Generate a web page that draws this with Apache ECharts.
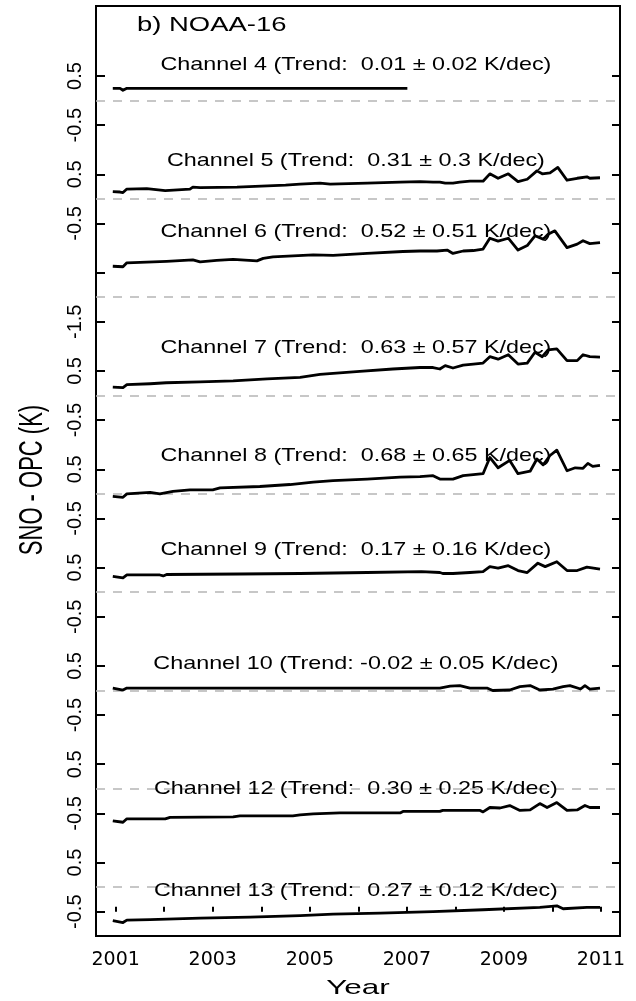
<!DOCTYPE html>
<html>
<head>
<meta charset="utf-8">
<script src="https://cdn.jsdelivr.net/npm/echarts@6/dist/echarts.min.js"></script>
<style>
html,body{margin:0;padding:0;background:#fff;}
#chart{width:636px;height:1001px;}
</style>
</head>
<body>
<div id="chart"></div>
<script>
// ---------------- data ----------------
const channelNames = ['Channel 4','Channel 5','Channel 6','Channel 7','Channel 8','Channel 9','Channel 10','Channel 12','Channel 13'];
const trendValues = [' 0.01',' 0.31',' 0.52',' 0.63',' 0.68',' 0.17','-0.02',' 0.30',' 0.27'];
const trendErrors = ['0.02','0.3','0.51','0.57','0.65','0.16','0.05','0.25','0.12'];
const yearTicks = [2001,2002,2003,2004,2005,2006,2007,2008,2009,2010,2011];
const yearLabels = [2001,2003,2005,2007,2009,2011];
// y tick labels, top to bottom
const yTickLabels = ['0.5','-0.5','0.5','-0.5','','-1.5','0.5','-0.5','0.5','-0.5','0.5','-0.5','0.5','-0.5','0.5','-0.5','0.5','-0.5'];

// SNO - OPC (K) per channel: [year, value]
const ch4 = [[2000.94,0.25],[2001.09,0.25],[2001.15,0.21],[2001.23,0.25],[2002.5,0.25],[2004.0,0.25],[2005.5,0.25],[2007.01,0.25]];
const ch5 = [[2000.94,0.15],[2001.09,0.14],[2001.15,0.13],[2001.23,0.20],[2001.64,0.21],[2001.66,0.17],[2002.02,0.17],[2002.05,0.20],[2002.53,0.20],[2002.59,0.24],[2002.74,0.23],[2003.5,0.24],[2004.0,0.26],[2004.5,0.28],[2004.8,0.30],[2005.21,0.32],[2005.42,0.30],[2006.18,0.32],[2006.86,0.34],[2007.27,0.35],[2007.54,0.34],[2007.68,0.34],[2007.79,0.32],[2007.95,0.32],[2008.09,0.34],[2008.30,0.36],[2008.57,0.36],[2008.71,0.51],[2008.88,0.42],[2009.09,0.51],[2009.29,0.35],[2009.48,0.40],[2009.68,0.57],[2009.79,0.51],[2009.95,0.53],[2010.11,0.64],[2010.30,0.38],[2010.51,0.42],[2010.71,0.45],[2010.77,0.42],[2010.98,0.43]];
const ch6 = [[2000.94,0.63],[2001.15,0.62],[2001.23,0.70],[2002.05,0.73],[2002.59,0.76],[2002.74,0.72],[2003.08,0.75],[2003.42,0.77],[2003.91,0.74],[2004.04,0.79],[2004.24,0.82],[2005.07,0.86],[2005.48,0.85],[2006.18,0.89],[2006.92,0.93],[2007.27,0.94],[2007.62,0.94],[2007.83,0.96],[2007.95,0.89],[2008.16,0.94],[2008.37,0.95],[2008.57,0.98],[2008.71,1.20],[2008.88,1.14],[2009.09,1.20],[2009.29,0.96],[2009.48,1.05],[2009.64,1.25],[2009.81,1.18],[2009.91,1.28],[2010.05,1.35],[2010.30,1.01],[2010.51,1.08],[2010.63,1.15],[2010.77,1.09],[2010.98,1.11]];
const ch7 = [[2000.94,0.17],[2001.15,0.16],[2001.23,0.22],[2001.71,0.24],[2002.04,0.26],[2002.74,0.28],[2003.42,0.30],[2004.12,0.34],[2004.80,0.37],[2005.21,0.43],[2005.48,0.45],[2006.03,0.49],[2006.71,0.54],[2007.27,0.57],[2007.54,0.57],[2007.68,0.54],[2007.79,0.61],[2007.95,0.56],[2008.16,0.62],[2008.37,0.64],[2008.57,0.66],[2008.71,0.79],[2008.88,0.74],[2009.09,0.83],[2009.29,0.64],[2009.48,0.66],[2009.64,0.88],[2009.79,0.79],[2009.91,0.93],[2010.09,0.95],[2010.30,0.71],[2010.51,0.71],[2010.63,0.83],[2010.77,0.79],[2010.98,0.78]];
const ch8 = [[2000.94,-0.05],[2001.15,-0.07],[2001.23,0.00],[2001.71,0.03],[2001.91,0.00],[2002.18,0.05],[2002.53,0.08],[2003.00,0.08],[2003.15,0.12],[2003.97,0.15],[2004.59,0.19],[2005.07,0.24],[2005.48,0.27],[2006.18,0.30],[2006.86,0.34],[2007.27,0.35],[2007.54,0.37],[2007.68,0.30],[2007.95,0.30],[2008.16,0.37],[2008.37,0.39],[2008.57,0.41],[2008.71,0.74],[2008.88,0.53],[2009.12,0.68],[2009.29,0.41],[2009.54,0.46],[2009.68,0.71],[2009.81,0.59],[2009.95,0.78],[2010.09,0.89],[2010.30,0.47],[2010.47,0.53],[2010.63,0.52],[2010.73,0.62],[2010.83,0.56],[2010.98,0.58]];
const ch9 = [[2000.94,0.32],[2001.15,0.29],[2001.23,0.35],[2001.91,0.35],[2001.98,0.33],[2002.05,0.36],[2003.56,0.37],[2004.80,0.38],[2006.18,0.40],[2007.30,0.42],[2007.68,0.40],[2007.74,0.38],[2007.95,0.38],[2008.30,0.40],[2008.57,0.42],[2008.71,0.52],[2008.88,0.49],[2009.09,0.54],[2009.29,0.44],[2009.48,0.40],[2009.70,0.59],[2009.85,0.52],[2010.09,0.62],[2010.30,0.44],[2010.51,0.44],[2010.71,0.51],[2010.98,0.47]];
const ch10 = [[2000.94,0.05],[2001.15,0.01],[2001.23,0.05],[2004.00,0.05],[2007.68,0.05],[2007.89,0.09],[2008.09,0.10],[2008.30,0.05],[2008.65,0.05],[2008.77,0.00],[2009.12,0.01],[2009.33,0.08],[2009.54,0.10],[2009.74,0.01],[2010.01,0.03],[2010.22,0.08],[2010.36,0.10],[2010.58,0.03],[2010.67,0.10],[2010.77,0.03],[2010.98,0.05]];
const ch12 = [[2000.94,-0.65],[2001.15,-0.68],[2001.23,-0.61],[2002.02,-0.61],[2002.12,-0.58],[2003.42,-0.57],[2003.56,-0.55],[2004.65,-0.55],[2004.80,-0.53],[2005.07,-0.51],[2005.62,-0.49],[2006.86,-0.49],[2006.92,-0.46],[2007.68,-0.46],[2007.74,-0.44],[2008.51,-0.44],[2008.57,-0.47],[2008.71,-0.38],[2008.92,-0.39],[2009.12,-0.34],[2009.33,-0.44],[2009.54,-0.43],[2009.74,-0.30],[2009.89,-0.38],[2010.09,-0.28],[2010.30,-0.44],[2010.51,-0.43],[2010.67,-0.34],[2010.77,-0.38],[2010.98,-0.38]];
const ch13 = [[2000.94,-0.68],[2001.15,-0.72],[2001.23,-0.67],[2001.71,-0.66],[2002.74,-0.63],[2003.77,-0.61],[2004.80,-0.58],[2005.48,-0.55],[2006.45,-0.53],[2007.54,-0.50],[2008.57,-0.46],[2009.74,-0.41],[2010.09,-0.38],[2010.22,-0.44],[2010.71,-0.41],[2010.98,-0.41]];

// ---------------- layout ----------------
const seriesData = [ch4, ch5, ch6, ch7, ch8, ch9, ch10, ch12, ch13];
const panelStep = 2;                  // K between stacked zero lines
const topZero = 16.5;                 // stacked coordinate of channel 4 zero line
const labelX = 2005.95;
const labelOffsetK = [0.72, 0.77, 1.33, 0.96, 0.77, 0.85, 0.54, 0.0, -0.08];
const FONT = 'Liberation Sans';

const base = seriesData.map((_, i) => topZero - panelStep * i);
const yTickValues = yTickLabels.map((_, i) => yTickLabels.length - 1 - i);
const labelTexts = channelNames.map((n, i) => n + ' (Trend: ' + trendValues[i] + ' \u00b1 ' + trendErrors[i] + ' K/dec)');

const lineSeries = seriesData.map((d, i) => ({
  type: 'line',
  name: channelNames[i],
  data: d.map(p => [p[0], p[1] + base[i]]),
  showSymbol: false,
  symbol: 'none',
  lineStyle: { color: '#000', width: 2.8, join: 'round' },
  z: 3,
  silent: true,
  markLine: {
    silent: true,
    symbol: 'none',
    label: { show: false },
    lineStyle: { color: '#b5b5b5', type: [9, 8], width: 1.5 },
    data: [{ yAxis: base[i] }],
    z: 1
  }
}));

const labelSeries = {
  type: 'custom',
  coordinateSystem: 'cartesian2d',
  silent: true,
  z: 10,
  data: channelNames.map((_, i) => [labelX, base[i] + labelOffsetK[i], i]),
  renderItem: (params, api) => {
    const p = api.coord([api.value(0), api.value(1)]);
    const idx = api.value(2);
    return {
      type: 'text',
      x: p[0], y: p[1],
      scaleX: 1.32,
      style: {
        text: labelTexts[idx],
        fontSize: 17.7, fontFamily: FONT, fill: '#000',
        align: 'center', verticalAlign: 'middle',
        textAlign: 'center', textVerticalAlign: 'middle'
      }
    };
  }
};

const chart = echarts.init(document.getElementById('chart'), null, { renderer: 'canvas' });
const yAxisCommon = {
  type: 'value', min: -0.494, max: 18.424,
  splitLine: { show: false }, axisLine: { show: false }
};
chart.setOption({
  animation: false,
  backgroundColor: '#fff',
  grid: { left: 96, right: 16, top: 6, bottom: 65, show: true, borderColor: '#000', borderWidth: 2, backgroundColor: 'transparent' },
  xAxis: {
    type: 'value', min: 2000.594, max: 2011.392,
    splitLine: { show: false },
    axisLine: { show: false },
    axisTick: { show: true, inside: true, length: 5, customValues: yearTicks, lineStyle: { color: '#000', width: 2 } },
    axisLabel: { show: true, customValues: yearLabels, margin: 15, color: '#000', fontSize: 19, fontFamily: 'DejaVu Sans', formatter: v => String(v) }
  },
  yAxis: [
    Object.assign({}, yAxisCommon, {
      position: 'left',
      axisTick: { show: true, inside: true, length: 9, customValues: yTickValues, lineStyle: { color: '#000', width: 2 } },
      axisLabel: { show: true, customValues: yTickValues, rotate: 90, margin: 11, color: '#000', fontSize: 20, fontFamily: FONT,
        formatter: v => yTickLabels[yTickLabels.length - 1 - Math.round(v)] }
    }),
    Object.assign({}, yAxisCommon, {
      position: 'right',
      axisTick: { show: true, inside: true, length: 8, customValues: yTickValues, lineStyle: { color: '#000', width: 2 } },
      axisLabel: { show: false }
    })
  ],
  graphic: [
    { type: 'text', x: 137, y: 26, scaleX: 1.4, silent: true,
      style: { text: 'b) NOAA-16', fontSize: 19.6, fontFamily: FONT, fill: '#000', align: 'left', verticalAlign: 'middle', textAlign: 'left', textVerticalAlign: 'middle' } },
    { type: 'text', x: 358, y: 988, scaleX: 1.5, silent: true,
      style: { text: 'Year', fontSize: 21, fontFamily: FONT, fill: '#000', align: 'center', verticalAlign: 'middle', textAlign: 'center', textVerticalAlign: 'middle' } },
    { type: 'text', x: 33, y: 480, rotation: Math.PI / 2, scaleY: 1.55, silent: true,
      style: { text: 'SNO - OPC (K)', fontSize: 22, fontFamily: FONT, fill: '#000', align: 'center', verticalAlign: 'middle', textAlign: 'center', textVerticalAlign: 'middle' } }
  ],
  series: lineSeries.concat([labelSeries])
});
</script>
</body>
</html>
